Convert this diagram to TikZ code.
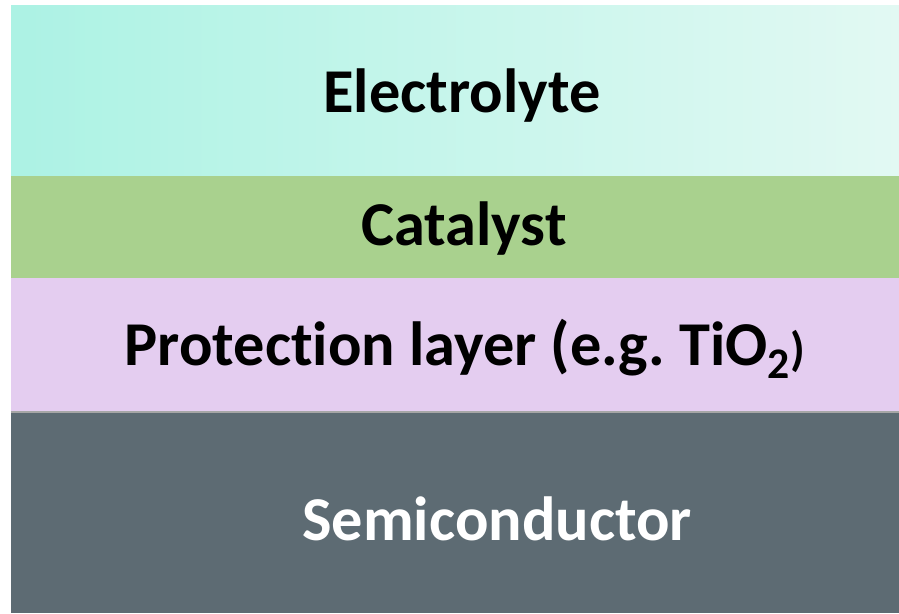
\documentclass[tikz,border=0pt]{standalone}
\usepackage{fontspec}
\setmainfont[Ligatures=NoCommon]{Carlito}
\usepackage{xcolor}
\usetikzlibrary{positioning}
\definecolor{elecleft}{HTML}{ACF2E4}
\definecolor{elecright}{HTML}{E2F9F3}
\definecolor{catgreen}{HTML}{A9D18E}
\definecolor{protlilac}{HTML}{E4CDF0}
\definecolor{semigray}{HTML}{5D6B73}
\tikzset{
  label/.style={anchor=base, inner sep=0pt, font=\bfseries\fontsize{35.5}{40}\selectfont}
}
\begin{document}
\begin{tikzpicture}[x=0.02cm, y=-0.02cm]
  \useasboundingbox (0,0) rectangle (899,613);
  % layer stack, top to bottom
  \shade[left color=elecleft, right color=elecright] (11,5) rectangle (899,176);
  \fill[catgreen] (11,176) rectangle (899,278);
  \fill[protlilac] (11,278) rectangle (899,412);
  \fill[semigray] (11,412) rectangle (899,613);
  \draw[black!35, line width=0.6pt] (11,412) -- (899,412);

  \node[label] (electrolyte) at (462,112) {Electrolyte};
  \node[label] (catalyst) at (464,245) {Catalyst};
  \node[label] (protection) at (465,365) {Protection layer (e.g.\ TiO\textsubscript{2}{\fontsize{27}{30}\selectfont)}};
  \node[label, text=white] (semiconductor) at (497,540) {Semiconductor};
\end{tikzpicture}
\end{document}
